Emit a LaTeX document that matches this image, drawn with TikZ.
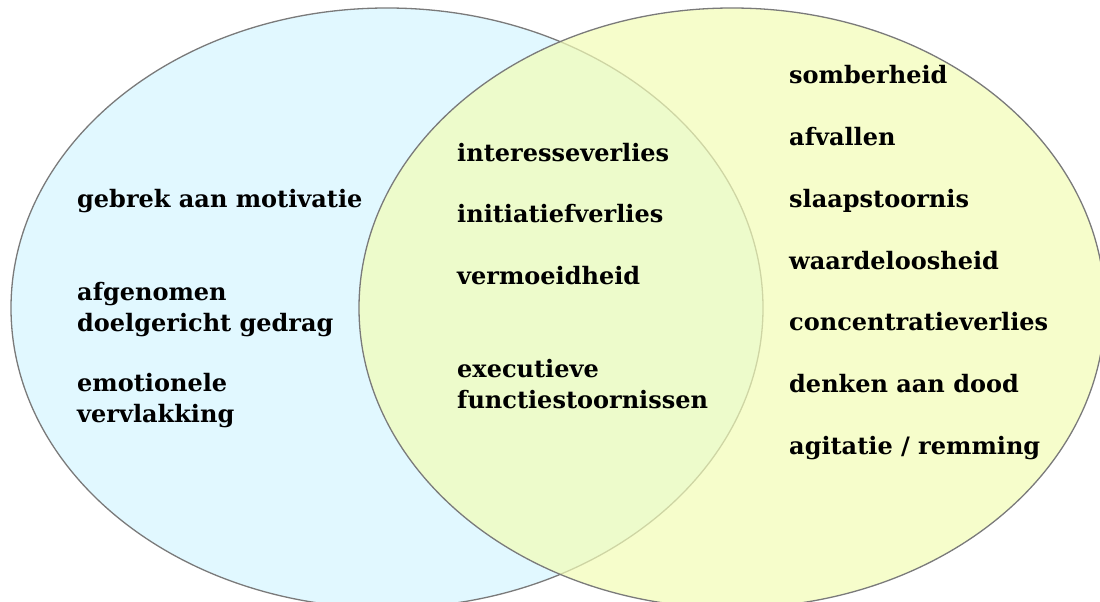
\documentclass[tikz,border=0pt]{standalone}
\usepackage{fontspec}
\setmainfont{DejaVu Serif}
\begin{document}
\begin{tikzpicture}[x=1pt,y=-1pt]
\definecolor{leftfill}{RGB}{225,248,255}
\definecolor{rightfill}{RGB}{243,253,182}
\definecolor{edge}{RGB}{122,122,122}
\tikzset{
  lbl/.style={anchor=base west, inner sep=0pt, align=left,
    font=\fontsize{24}{30.5}\selectfont\bfseries, text=black},
  setline/.style={draw=edge, line width=1.3pt}
}
\useasboundingbox (0,0) rectangle (1100,602);
\clip (0,0) rectangle (1100,602);
\fill[white] (0,0) rectangle (1100,602);
% left set
\path[fill=leftfill] (387,308) ellipse [x radius=376, y radius=300];
\draw[setline] (387,308) ellipse [x radius=376, y radius=300];
% right set
\path[fill=rightfill, fill opacity=0.7] (732,308) ellipse [x radius=373, y radius=300];
\draw[setline] (732,308) ellipse [x radius=373, y radius=300];
% left texts
\node[lbl] (l1) at (77,207) {gebrek aan motivatie};
\node[lbl] (l2) at (77,331) {afgenomen\\doelgericht gedrag};
\node[lbl] (l3) at (77,422) {emotionele\\vervlakking};
% middle texts
\node[lbl] (m1) at (457,161) {interesseverlies};
\node[lbl] (m2) at (457,222) {initiatiefverlies};
\node[lbl] (m3) at (457,284) {vermoeidheid};
\node[lbl] (m4) at (457,408) {executieve\\functiestoornissen};
% right texts
\node[lbl] (r1) at (789,84) {somberheid};
\node[lbl] (r2) at (789,145) {afvallen};
\node[lbl] (r3) at (789,207) {slaapstoornis};
\node[lbl] (r4) at (789,269) {waardeloosheid};
\node[lbl] (r5) at (789,330) {concentratieverlies};
\node[lbl] (r6) at (789,392) {denken aan dood};
\node[lbl] (r7) at (789,454) {agitatie / remming};
\end{tikzpicture}
\end{document}
